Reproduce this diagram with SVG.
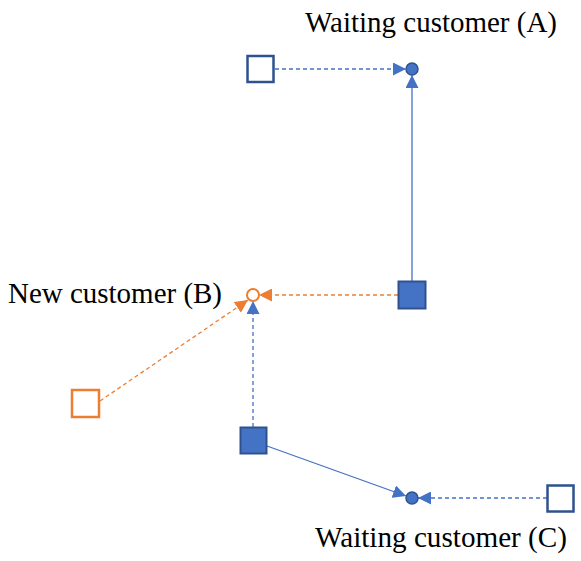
<svg xmlns="http://www.w3.org/2000/svg" width="581" height="561" viewBox="0 0 581 561">
<style>
.lbl{font-family:"Liberation Serif","Times New Roman",serif;font-size:29px;fill:#000}
.sq-open{fill:#fff;stroke:#2F528F;stroke-width:2.5}
.sq-fill{fill:#4472C4;stroke:#2F528F;stroke-width:2}
.sq-orange{fill:#fff;stroke:#ED7D31;stroke-width:2.5}
.dot{fill:#4472C4;stroke:#2F528F;stroke-width:1.5}
.dot-orange{fill:#fff;stroke:#ED7D31;stroke-width:2}
.bl{stroke:#4472C4;stroke-width:1.3;fill:none}
.dash{stroke-dasharray:4 3}
.or{stroke:#ED7D31;stroke-width:1.3;fill:none;stroke-dasharray:4 3}
</style>
<defs>
<marker id="ab" markerUnits="userSpaceOnUse" markerWidth="13" markerHeight="13" viewBox="0 0 13 13" refX="13" refY="6.5" orient="auto">
<path d="M0,0 L13,6.5 L0,13 Z" fill="#4472C4"/>
</marker>
<marker id="ao" markerUnits="userSpaceOnUse" markerWidth="13" markerHeight="13" viewBox="0 0 13 13" refX="13" refY="6.5" orient="auto">
<path d="M0,0 L13,6.5 L0,13 Z" fill="#ED7D31"/>
</marker>
</defs>
<g id="connectors">
<line class="bl dash" x1="275" y1="69" x2="406" y2="69" marker-end="url(#ab)"/>
<line class="bl" x1="412" y1="281" x2="412" y2="75" marker-end="url(#ab)"/>
<line class="or" x1="398" y1="295" x2="259" y2="295" marker-end="url(#ao)"/>
<line class="or" x1="100" y1="401" x2="248" y2="300" marker-end="url(#ao)"/>
<line class="bl dash" x1="253" y1="427" x2="253" y2="301" marker-end="url(#ab)"/>
<line class="bl" x1="267" y1="446" x2="406" y2="496" marker-end="url(#ab)"/>
<line class="bl dash" x1="547" y1="498" x2="418" y2="498" marker-end="url(#ab)"/>
</g>
<g id="src-A"><rect class="sq-open" x="247.5" y="56" width="26" height="26"/></g>
<g id="cust-A"><circle class="dot" cx="412" cy="69" r="6"/><text class="lbl" x="305" y="32" textLength="252" lengthAdjust="spacingAndGlyphs">Waiting customer (A)</text></g>
<g id="server-1"><rect class="sq-fill" x="398.5" y="281.5" width="27" height="27"/></g>
<g id="cust-B"><circle class="dot-orange" cx="253" cy="295" r="6"/><text class="lbl" x="8" y="303" textLength="214" lengthAdjust="spacingAndGlyphs">New customer (B)</text></g>
<g id="src-B"><rect class="sq-orange" x="72" y="390" width="27" height="27"/></g>
<g id="server-2"><rect class="sq-fill" x="240.5" y="427.5" width="26" height="26"/></g>
<g id="cust-C"><circle class="dot" cx="412" cy="498" r="6"/><text class="lbl" x="315" y="547" textLength="252" lengthAdjust="spacingAndGlyphs">Waiting customer (C)</text></g>
<g id="src-C"><rect class="sq-open" x="547.5" y="485.5" width="26" height="26"/></g>
</svg>
